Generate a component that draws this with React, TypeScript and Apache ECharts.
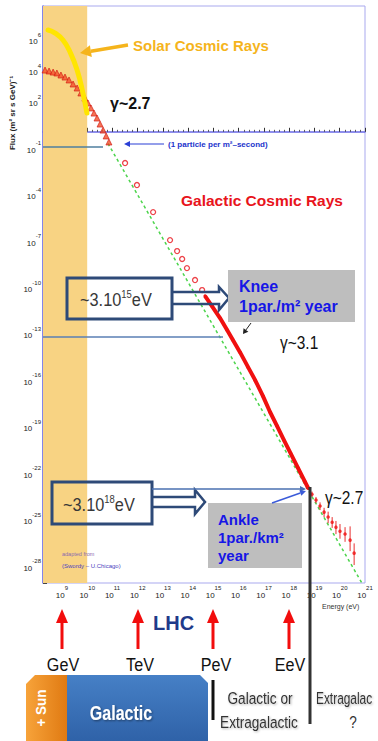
import React, { useEffect, useRef } from "react";
import * as echarts from "echarts";

// ---------- data (log10 of energy in eV, log10 of flux) ----------
const xTickExponents = [9, 10, 11, 12, 13, 14, 15, 16, 17, 18, 19, 20, 21];
const yTickExponents = [6, 4, 2, -1, -4, -7, -10, -13, -16, -19, -22, -25, -28];

const xRange = [8.25, 21];
const yRange = [-29.16, 8.13];

const bandLogE = [8.25, 10];

const solarLogE = [8.45, 8.73, 9.04, 9.32, 9.6, 9.83, 9.99];
const solarLogFlux = [6.58, 6.38, 5.93, 5.16, 4.0, 2.51, 1.21];

const lowLogE = [8.33, 8.49, 8.65, 8.8, 8.96, 9.12, 9.28, 9.44, 9.6, 9.75, 9.91, 10.03, 10.15, 10.27, 10.39, 10.51, 10.63, 10.75, 10.86];
const lowLogFlux = [3.99, 3.93, 3.86, 3.8, 3.67, 3.54, 3.35, 3.09, 2.83, 2.51, 2.18, 1.86, 1.54, 1.21, 0.89, 0.5, 0.11, -0.27, -0.66];

const midLogE = [11.5, 11.97, 12.61, 13.28, 13.56, 13.76, 13.95, 14.27, 14.55];
const midLogFlux = [-2.02, -3.44, -5.19, -7.0, -7.71, -8.22, -8.81, -9.58, -10.23];

const kneeLogE = [14.67, 14.94, 15.26, 15.54, 15.77, 16.05, 16.37, 16.65, 16.96, 17.24, 17.52, 17.79, 18.07, 18.35, 18.63, 18.75];
const kneeLogFlux = [-10.62, -11.26, -12.04, -12.81, -13.46, -14.24, -15.21, -16.05, -17.08, -18.11, -19.02, -19.92, -20.83, -21.73, -22.64, -23.03];

const tailLogE = [18.9, 19.06, 19.22, 19.38, 19.54, 19.7, 19.85, 20.01, 20.21, 20.41, 20.57];
const tailLogFlux = [-23.42, -23.8, -24.19, -24.58, -24.9, -25.23, -25.55, -25.81, -26.0, -26.39, -27.23];
const tailErrLow = [-23.6, -24.0, -24.45, -24.9, -25.3, -25.6, -26.0, -26.3, -26.5, -27.1, -28.0];
const tailErrHigh = [-23.25, -23.6, -23.95, -24.3, -24.55, -24.9, -25.15, -25.35, -25.55, -25.5, -26.6];

const fitLogE = [10.82, 20.88];
const fitLogFlux = [-0.75, -29.17];

// ---------- helpers ----------
const ARIAL = "'Liberation Sans', Arial, sans-serif";

const zip = (a: number[], b: number[]) => a.map((v, i) => [v, b[i]]);
const isInt = (v: number) => Math.abs(v - Math.round(v)) < 1e-6;

function arrowEls(x1: number, y1: number, x2: number, y2: number, color: string, width: number, headLen: number, headHalf: number) {
  const dx = x2 - x1, dy = y2 - y1, L = Math.hypot(dx, dy);
  const ux = dx / L, uy = dy / L;
  const bx = x2 - ux * headLen, by = y2 - uy * headLen;
  return [
    { type: "line", z: 100, shape: { x1, y1, x2: bx, y2: by }, style: { stroke: color, lineWidth: width } },
    {
      type: "polygon", z: 100,
      shape: { points: [[x2, y2], [bx - uy * headHalf, by + ux * headHalf], [bx + uy * headHalf, by - ux * headHalf]] },
      style: { fill: color },
    },
  ];
}

function txt(x: number, y: number, text: string, style: any, extra: any = {}) {
  return { type: "text", x, y, z: 110, style: { text, align: "left", verticalAlign: "middle", ...style }, ...extra };
}

const supRich = (size: number, supSize: number, color: string) => ({
  b: { fontSize: size, lineHeight: size + 2, verticalAlign: "bottom", fontFamily: ARIAL, fill: color, color },
  s: { fontSize: supSize, lineHeight: supSize, verticalAlign: "top", fontFamily: ARIAL, fill: color, color },
});

const shadow = { textShadowColor: "rgba(0,0,0,0.3)", textShadowBlur: 2, textShadowOffsetX: 1, textShadowOffsetY: 1 };

export default function App() {
  const ref = useRef<HTMLDivElement>(null);

  useEffect(() => {
    if (!ref.current) return;
    const chart = echarts.init(ref.current, undefined, { renderer: "svg" });

    const axisLabelRich = {
      b: { fontSize: 8, lineHeight: 14, verticalAlign: "bottom", color: "#222", fontFamily: ARIAL },
      s: { fontSize: 6, lineHeight: 6, verticalAlign: "top", color: "#222", fontFamily: ARIAL },
    };

    const darkBlue = "#2E4A78";
    const NARROW = 0.8;

    const graphics: any[] = [
      // y axis title
      txt(12, 113, "Flux (m² sr s GeV)⁻¹", { fontSize: 8, fontWeight: "bold", fontFamily: ARIAL, fill: "#222", align: "center" }, { rotation: Math.PI / 2 }),
      // Solar cosmic rays
      txt(133, 45, "Solar Cosmic Rays", { fontSize: 15, fontWeight: "bold", fontFamily: ARIAL, fill: "#F5B41C" }),
      ...arrowEls(128, 45, 80, 53, "#F5B41C", 3.5, 11, 6),
      txt(110, 103, "γ~2.7", { fontSize: 16, fontWeight: "bold", fontFamily: ARIAL, fill: "#111" }),
      // 1 particle per m2 second
      { type: "line", z: 100, shape: { x1: 43, y1: 147, x2: 103, y2: 147 }, style: { stroke: "#4F7F9F", lineWidth: 1.5 } },
      ...arrowEls(164, 144, 124, 144, "#2B3FD6", 1.2, 6, 3),
      txt(168, 144, "(1 particle per m²–second)", { fontSize: 8, fontWeight: "bold", fontFamily: ARIAL, fill: "#2233CC" }),
      // Galactic cosmic rays
      txt(181, 200, "Galactic Cosmic Rays", { fontSize: 15.5, fontWeight: "bold", fontFamily: ARIAL, fill: "#E8141C" }),
      // Knee box
      { type: "rect", z: 100, shape: { x: 67, y: 278, width: 105, height: 41 }, style: { fill: "none", stroke: darkBlue, lineWidth: 3 } },
      {
        type: "polyline", z: 100,
        shape: { points: [[172, 292], [219, 292], [219, 287], [229, 298], [219, 310], [219, 304], [172, 304]] },
        style: { fill: "none", stroke: darkBlue, lineWidth: 2.5 },
      },
      txt(80, 299, "{b|~3.10}{s|15}{b|eV}", { rich: supRich(19, 11, "#383838") }, { scaleX: 0.86 }),
      { type: "rect", z: 100, shape: { x: 228, y: 270, width: 127, height: 52 }, style: { fill: "#BEBEBE" } },
      txt(239, 286, "Knee", { fontSize: 16, fontWeight: "bold", fontFamily: ARIAL, fill: "#1616E6" }),
      txt(239, 306, "1par./m² year", { fontSize: 16, fontWeight: "bold", fontFamily: ARIAL, fill: "#1616E6" }),
      ...arrowEls(251, 323, 243, 334, "#222", 1, 5, 3),
      { type: "line", z: 100, shape: { x1: 43, y1: 337, x2: 223, y2: 337 }, style: { stroke: "#5A7FB5", lineWidth: 1.5 } },
      txt(280, 343, "γ~3.1", { fontSize: 18, fontFamily: ARIAL, fill: "#111" }, { scaleX: 0.86 }),
      // Ankle
      { type: "rect", z: 100, shape: { x: 52, y: 482, width: 100, height: 42 }, style: { fill: "none", stroke: darkBlue, lineWidth: 3 } },
      {
        type: "polyline", z: 100,
        shape: { points: [[152, 497], [195, 497], [195, 490], [205, 502], [195, 514], [195, 507], [152, 507]] },
        style: { fill: "none", stroke: darkBlue, lineWidth: 2.5 },
      },
      ...arrowEls(152, 489, 306, 489, "#4A70B0", 1.5, 6, 3),
      txt(63, 504, "{b|~3.10}{s|18}{b|eV}", { rich: supRich(19, 11, "#383838") }, { scaleX: 0.86 }),
      { type: "rect", z: 100, shape: { x: 208, y: 503, width: 94, height: 65 }, style: { fill: "#BEBEBE" } },
      txt(218, 519, "Ankle", { fontSize: 15, fontWeight: "bold", fontFamily: ARIAL, fill: "#1616E6" }),
      txt(218, 537, "1par./km²", { fontSize: 15, fontWeight: "bold", fontFamily: ARIAL, fill: "#1616E6" }),
      txt(218, 555, "year", { fontSize: 15, fontWeight: "bold", fontFamily: ARIAL, fill: "#1616E6" }),
      ...arrowEls(272, 503, 306, 491, "#3B5BD9", 1.5, 6, 3),
      txt(325, 498, "γ~2.7", { fontSize: 18, fontFamily: ARIAL, fill: "#111" }, { scaleX: 0.86 }),
      // credits
      txt(62, 554, "adapted from", { fontSize: 5.5, fontFamily: ARIAL, fill: "#8A6BB0" }),
      txt(62, 566, "(Swordy – U.Chicago)", { fontSize: 6, fontFamily: ARIAL, fill: "#4A3FC0" }),
      txt(322, 606, "Energy (eV)", { fontSize: 7, fontFamily: ARIAL, fill: "#333" }),
      // separator line at the ankle
      { type: "line", z: 105, shape: { x1: 310, y1: 487, x2: 310, y2: 724 }, style: { stroke: "#333", lineWidth: 3 } },
      // bottom blocks
      {
        type: "polygon", z: 100,
        shape: { points: [[26, 684], [35, 675], [67, 675], [67, 741], [26, 741]] },
        style: {
          fill: new echarts.graphic.LinearGradient(0, 0, 1, 0, [
            { offset: 0, color: "#F7A33A" },
            { offset: 1, color: "#E07A12" },
          ]),
        },
      },
      {
        type: "polygon", z: 100,
        shape: { points: [[67, 675], [200, 675], [208, 683], [208, 741], [67, 741]] },
        style: {
          fill: new echarts.graphic.LinearGradient(0, 0, 0, 1, [
            { offset: 0, color: "#4680C6" },
            { offset: 1, color: "#2F62A8" },
          ]),
        },
      },
      txt(41, 708, "+ Sun", { fontSize: 15, fontWeight: "bold", fontFamily: ARIAL, fill: "#fff", align: "center" }, { rotation: Math.PI / 2, scaleX: 0.9 }),
      txt(121, 713, "Galactic", {
        fontSize: 20, fontWeight: "bold", fontFamily: ARIAL, fill: "#fff", align: "center",
        textShadowColor: "rgba(0,0,0,0.45)", textShadowBlur: 2, textShadowOffsetX: 1, textShadowOffsetY: 1,
      }, { scaleX: NARROW }),
      { type: "line", z: 100, shape: { x1: 213, y1: 680, x2: 213, y2: 720 }, style: { stroke: "#111", lineWidth: 3 } },
      txt(260, 698, "Galactic or", { fontSize: 17, fontFamily: ARIAL, fill: "#333", align: "center", ...shadow }, { scaleX: NARROW }),
      txt(259, 722, "Extragalactic", { fontSize: 17, fontFamily: ARIAL, fill: "#333", align: "center", ...shadow }, { scaleX: NARROW }),
      txt(316, 698, "Extragalac", { fontSize: 17, fontFamily: ARIAL, fill: "#333", ...shadow }, { scaleX: 0.7 }),
      txt(353, 722, "?", { fontSize: 17, fontFamily: ARIAL, fill: "#333", align: "center" }, { scaleX: NARROW }),
      // LHC
      txt(153, 623, "LHC", { fontSize: 20, fontWeight: "bold", fontFamily: ARIAL, fill: "#1F3A8A" }),
    ];

    // energy markers (GeV, TeV, PeV, EeV)
    const markers: [number, number, string][] = [[62, 63, "GeV"], [138, 140, "TeV"], [213, 216, "PeV"], [289, 290, "EeV"]];
    markers.forEach(([ax, tx, label]) => {
      graphics.push({ type: "rect", z: 100, shape: { x: ax - 1.5, y: 620, width: 3, height: 29 }, style: { fill: "#F20D0D" } });
      graphics.push({ type: "polygon", z: 100, shape: { points: [[ax - 6, 623], [ax, 609], [ax + 6, 623]] }, style: { fill: "#F20D0D" } });
      graphics.push(txt(tx, 665, label, { fontSize: 19, fontFamily: ARIAL, fill: "#111", align: "center" }, { scaleX: 0.85 }));
    });

    const option: any = {
      animation: false,
      backgroundColor: "#fff",
      grid: {
        left: 43, right: 13, top: 6, bottom: 158,
        show: true, borderColor: "#A9A9EE", borderWidth: 1, backgroundColor: "transparent",
        containLabel: false, outerBoundsMode: "none",
      },
      xAxis: {
        type: "value", min: xRange[0], max: xRange[1], minInterval: 1, maxInterval: 1,
        axisLine: { show: true, lineStyle: { color: "#6A6AE6", width: 1.5 } },
        axisTick: { show: true, inside: true, length: 4, lineStyle: { color: "#333", width: 1 } },
        minorTick: { show: true, splitNumber: 5, length: 2, lineStyle: { color: "#333", width: 0.8 } },
        splitLine: { show: false },
        axisLabel: {
          margin: 2,
          formatter: (v: number) => (isInt(v) && xTickExponents.includes(Math.round(v)) ? `{b|10}{s|${Math.round(v)}}` : ""),
          rich: axisLabelRich,
        },
      },
      yAxis: {
        type: "value", min: yRange[0], max: yRange[1], minInterval: 1, maxInterval: 1,
        axisLine: { show: true, lineStyle: { color: "#6A6AE6", width: 1.5 } },
        axisTick: { show: true, inside: true, length: 4, lineStyle: { color: "#444", width: 1 } },
        minorTick: { show: true, splitNumber: 2, length: 3, lineStyle: { color: "#444", width: 0.8 } },
        splitLine: { show: false },
        axisLabel: {
          margin: 2,
          formatter: (v: number) => (isInt(v) && yTickExponents.includes(Math.round(v)) ? `{b|10}{s|${Math.round(v)}}` : ""),
          rich: axisLabelRich,
        },
      },
      series: [
        {
          name: "band", type: "line", data: [], z: 1, silent: true,
          markArea: {
            silent: true,
            itemStyle: { color: "#F8D383" },
            data: [[{ xAxis: bandLogE[0], yAxis: yRange[0] }, { xAxis: bandLogE[1], yAxis: yRange[1] }]],
          },
        },
        {
          name: "fit", type: "line", data: zip(fitLogE, fitLogFlux), showSymbol: false, z: 3, silent: true,
          lineStyle: { color: "#4CD44C", width: 1.5, type: [3, 3] },
        },
        {
          name: "low", type: "scatter", data: zip(lowLogE, lowLogFlux), symbol: "triangle", symbolSize: 6, z: 4,
          itemStyle: { color: "#F2502A", borderColor: "#D0150F", borderWidth: 0.8 },
        },
        {
          name: "mid", type: "scatter", data: zip(midLogE, midLogFlux), symbol: "circle", symbolSize: 5, z: 4,
          itemStyle: { color: "#fff", borderColor: "#E8141C", borderWidth: 1.3 },
        },
        {
          name: "knee", type: "line", data: zip(kneeLogE, kneeLogFlux), symbol: "circle", symbolSize: 3.5, z: 4,
          lineStyle: { color: "#F01010", width: 4 }, itemStyle: { color: "#F01010" },
        },
        {
          name: "tailErr", type: "custom", z: 4,
          data: tailLogE.map((e, i) => [e, tailErrLow[i], tailErrHigh[i]]),
          renderItem: (params: any, api: any) => {
            const x = api.value(0);
            const p1 = api.coord([x, api.value(1)]);
            const p2 = api.coord([x, api.value(2)]);
            return { type: "line", shape: { x1: p1[0], y1: p1[1], x2: p2[0], y2: p2[1] }, style: { stroke: "#E83030", lineWidth: 1 } };
          },
        },
        {
          name: "tail", type: "scatter", data: zip(tailLogE, tailLogFlux), symbol: "circle", symbolSize: 3.5, z: 4,
          itemStyle: { color: "#F01010" },
        },
        {
          name: "solar", type: "line", data: zip(solarLogE, solarLogFlux), smooth: true, showSymbol: false, z: 5,
          lineStyle: { color: "#FFE500", width: 5, cap: "round" },
        },
      ],
      graphic: { elements: graphics },
    };

    chart.setOption(option);
    return () => chart.dispose();
  }, []);

  return <div ref={ref} style={{ position: "fixed", left: 0, top: 0, width: 378, height: 741 }} />;
}
